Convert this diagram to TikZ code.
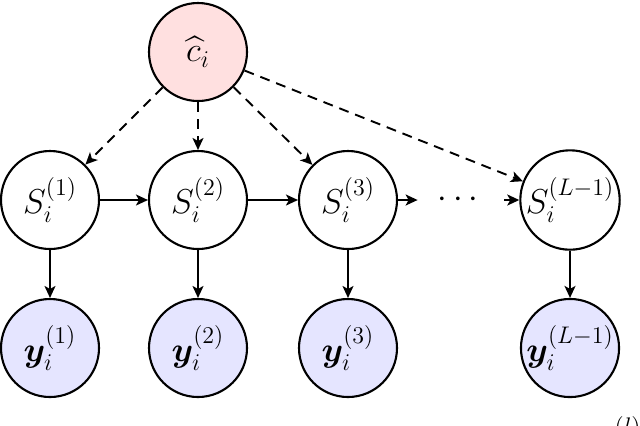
\documentclass[tikz,border=0pt]{standalone}
\usepackage{amsmath,bm}
\usetikzlibrary{arrows.meta}
\begin{document}
\begin{tikzpicture}[x=0.5pt,y=-0.5pt,
  state/.style={circle,draw,line width=1.05pt,minimum size=49pt,inner sep=0pt,font=\LARGE},
  latent/.style={state,fill=red!12},
  obs/.style={state,fill=blue!10},
  arr/.style={-{Stealth[length=6pt,width=5.5pt,inset=1.5pt]},line width=0.95pt},
  darr/.style={arr,dash pattern=on 5pt off 3.5pt}]
\useasboundingbox (0,0) rectangle (640,425);
\node[latent] (c) at (198,52) {$\widehat{c}_i$};
\node[state] (s1) at (50,200) {$S_i^{(1)}$};
\node[state] (s2) at (198,200) {$S_i^{(2)}$};
\node[state] (s3) at (348,200) {$S_i^{(3)}$};
\node[state] (sL) at (570,200) {$S_i^{(L-1)}$};
\node[font=\LARGE,inner sep=0pt,minimum width=43pt,minimum height=10pt] (dots) at (461,200) {$\cdots$};
\node[obs] (y1) at (50,348) {$\bm{y}_i^{(1)}$};
\node[obs] (y2) at (198,348) {$\bm{y}_i^{(2)}$};
\node[obs] (y3) at (348,348) {$\bm{y}_i^{(3)}$};
\node[obs] (yL) at (570,348) {$\bm{y}_i^{(L-1)}$};
\node[font=\LARGE,anchor=north,inner sep=0pt] (lbl) at (628,416) {$^{(l)}$};
\draw[darr] (c) -- (s1);
\draw[darr] (c) -- (s2);
\draw[darr] (c) -- (s3);
\draw[darr] (c) -- (sL);
\draw[arr] (s1) -- (s2);
\draw[arr] (s2) -- (s3);
\draw[arr] (s3) -- (dots);
\draw[arr] (dots) -- (sL);
\draw[arr] (s1) -- (y1);
\draw[arr] (s2) -- (y2);
\draw[arr] (s3) -- (y3);
\draw[arr] (sL) -- (yL);
\end{tikzpicture}
\end{document}
